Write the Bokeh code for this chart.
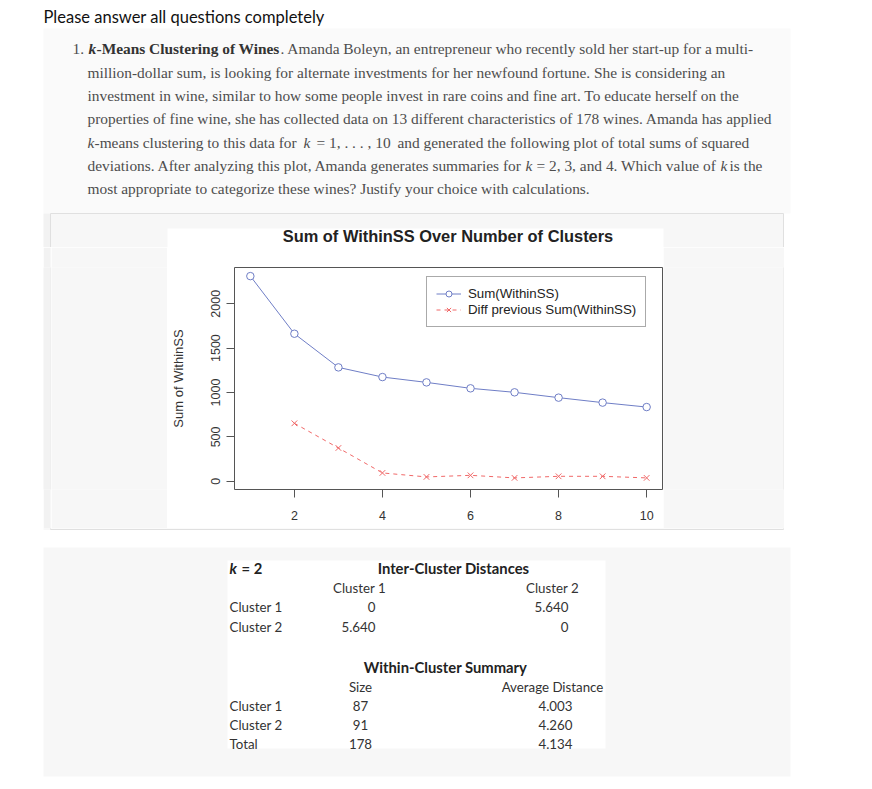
from bokeh.plotting import figure
from bokeh.layouts import column, row
from bokeh.models import Range1d, FixedTicker, Legend, LegendItem
from bokeh.core.properties import value
from bokeh.embed import file_html
from bokeh.resources import INLINE

# ---------------- data ----------------
k_values = [1, 2, 3, 4, 5, 6, 7, 8, 9, 10]
sum_withinss = [2311, 1662, 1283, 1174, 1114, 1047, 1002, 942, 886, 836]
diff_k = [2, 3, 4, 5, 6, 7, 8, 9, 10]
diff_withinss = [653, 375, 94, 49, 67, 38, 56, 56, 38]
x_ticks = [2, 4, 6, 8, 10]
y_ticks = [0, 500, 1000, 1500, 2000]

inter_cols = ["Cluster 1", "Cluster 2"]
inter_rows = ["Cluster 1", "Cluster 2"]
inter_col1 = ["0", "5.640"]
inter_col2 = ["5.640", "0"]
within_rows = ["Cluster 1", "Cluster 2", " Total"]
within_size = ["87", "91", "178"]
within_avg = ["4.003", "4.260", "4.134"]

SERIF = "Liberation Serif"
SANS = "Liberation Sans"
TAB = "Lato"
BLUE = "#6f7ec6"
RED = "#f06868"
PANEL = "#f7f7f7"
STRIP = "#f2f2f2"
EDGE = "#e0e0e0"


def blank(w, h, x0, x1, y0, y1, fill="white"):
    f = figure(width=w, height=h, x_range=Range1d(x0, x1), y_range=Range1d(y1, y0),
               x_axis_type=None, y_axis_type=None, output_backend="svg",
               toolbar_location=None, min_border=0, title=None)
    f.grid.visible = False
    f.outline_line_color = None
    f.background_fill_color = fill
    f.border_fill_color = fill
    return f


def txt(f, x, y, s, font, size, style="normal", color="#4d4d4d", align="left"):
    f.text(x=[x], y=[y], text=[s], text_font=value(font), text_font_size=size,
           text_font_style=style, text_color=color, text_align=align,
           text_baseline="middle")


# ---------------- header (page y 0..247) ----------------
H = blank(872, 247, 0, 872, 0, 247)
H.quad(left=[43], right=[790], top=[28], bottom=[213], fill_color="#fafafa", line_color=None)
H.quad(left=[43], right=[50], top=[213], bottom=[260], fill_color=STRIP, line_color=None)
H.quad(left=[50], right=[783], top=[213], bottom=[260], fill_color=PANEL, line_color=EDGE)
H.quad(left=[167], right=[663], top=[228], bottom=[260], fill_color="white", line_color=None)

txt(H, 43, 16, "Please answer all questions completely", TAB, "16.5px", color="#111111")

PS = "15.4px"
ys = [48, 71.5, 95, 118.3, 141.7, 165, 188.4]
txt(H, 72, ys[0], "1.", SERIF, PS)
txt(H, 88, ys[0], "k", SERIF, PS, "bold italic", "#333333")
txt(H, 96, ys[0], "-Means Clustering of Wines", SERIF, PS, "bold", "#333333")
txt(H, 280, ys[0], ". Amanda Boleyn, an entrepreneur who recently sold her start-up for a multi-", SERIF, PS)
txt(H, 87, ys[1], "million-dollar sum, is looking for alternate investments for her newfound fortune. She is considering an", SERIF, PS)
txt(H, 87, ys[2], "investment in wine, similar to how some people invest in rare coins and fine art. To educate herself on the", SERIF, PS)
txt(H, 87, ys[3], "properties of fine wine, she has collected data on 13 different characteristics of 178 wines. Amanda has applied", SERIF, PS)
txt(H, 87, ys[4], "k", SERIF, PS, "italic")
txt(H, 94, ys[4], "-means clustering to this data for", SERIF, PS)
txt(H, 303, ys[4], "k", SERIF, PS, "italic")
txt(H, 316, ys[4], "= 1, . . . , 10", SERIF, PS)
txt(H, 397, ys[4], "and generated the following plot of total sums of squared", SERIF, PS)
txt(H, 87, ys[5], "deviations. After analyzing this plot, Amanda generates summaries for", SERIF, PS)
txt(H, 525, ys[5], "k", SERIF, PS, "italic")
txt(H, 536, ys[5], "= 2, 3, and 4. Which value of", SERIF, PS)
txt(H, 720, ys[5], "k", SERIF, PS, "italic")
txt(H, 729, ys[5], "is the", SERIF, PS)
txt(H, 87, ys[6], "most appropriate to categorize these wines? Justify your choice with calculations.", SERIF, PS)

# chart title (sits in the white chart area of the page)
txt(H, 447.5, 235, "Sum of WithinSS Over Number of Clusters", SANS, "16.4px", "bold", "#222222", "center")

# ---------------- chart row (page y 247..528) ----------------
RH = 281
L1 = blank(43, RH, 0, 1, 0, 1, "white")
L2 = blank(7, RH, 0, 1, 0, 1, STRIP)
L3 = blank(1, RH, 0, 1, 0, 1, EDGE)
L4 = blank(116, RH, 0, 1, 0, 1, PANEL)
R1 = blank(120, RH, 0, 1, 0, 1, PANEL)
R2 = blank(1, RH, 0, 1, 0, 1, EDGE)
R3 = blank(88, RH, 0, 1, 0, 1, "white")

c = figure(width=496, height=RH, x_range=Range1d(0.64, 10.36), y_range=Range1d(-92.6, 2408),
           output_backend="svg", toolbar_location=None, title=None,
           min_border_left=66, min_border_right=1, min_border_top=20, min_border_bottom=39)
c.background_fill_color = "white"
c.border_fill_color = "white"
c.grid.visible = False
c.outline_line_color = "#555555"

for ax in (c.xaxis[0], c.yaxis[0]):
    ax.axis_line_color = None
    ax.major_tick_out = 8
    ax.major_tick_in = 0
    ax.minor_tick_out = 0
    ax.minor_tick_in = 0
    ax.major_tick_line_color = "#555555"
    ax.major_label_text_font = SANS
    ax.major_label_text_font_size = "12.5px"
    ax.major_label_text_color = "#333333"
c.xaxis.ticker = FixedTicker(ticks=x_ticks)
c.xaxis.major_label_standoff = 13
c.yaxis.ticker = FixedTicker(ticks=y_ticks)
c.yaxis.major_label_orientation = "vertical"
c.yaxis.major_label_standoff = 6
c.yaxis.axis_label = "Sum of WithinSS"
c.yaxis.axis_label_text_font = SANS
c.yaxis.axis_label_text_font_size = "13px"
c.yaxis.axis_label_text_font_style = "normal"
c.yaxis.axis_label_text_color = "#333333"
c.yaxis.axis_label_standoff = 23

r1 = c.line(k_values, sum_withinss, line_color=BLUE, line_width=1)
s1 = c.scatter(k_values, sum_withinss, marker="circle", size=7.5, line_color=BLUE,
               fill_color="white", line_width=1)
r2 = c.line(diff_k, diff_withinss, line_color=RED, line_width=1, line_dash="4 4")
s2 = c.scatter(diff_k, diff_withinss, marker="x", size=8, line_color=RED, line_width=1)

legend = Legend(items=[LegendItem(label="Sum(WithinSS)", renderers=[r1, s1]),
                       LegendItem(label="Diff previous Sum(WithinSS)", renderers=[r2, s2])],
                location=(192, 162), margin=0, padding=9, spacing=1,
                glyph_width=25, glyph_height=15, label_height=15, label_standoff=7,
                label_text_font=SANS, label_text_font_size="13.3px", label_text_color="#222222",
                border_line_color="#555555", background_fill_alpha=1)
c.add_layout(legend)

# ---------------- table (page y 528..788) ----------------
T = blank(872, 260, 0, 872, 528, 788)
T.quad(left=[43], right=[50], top=[500], bottom=[529], fill_color=STRIP, line_color=None)
T.quad(left=[50], right=[783], top=[500], bottom=[529], fill_color=PANEL, line_color=EDGE)
T.quad(left=[43], right=[790], top=[547], bottom=[776], fill_color=PANEL, line_color=None)
T.quad(left=[227], right=[605], top=[560], bottom=[748], fill_color="white", line_color=None)

TS = "13.3px"
TB = "14.8px"
TC = "#333333"
txt(T, 229, 567, "k", TAB, TB, "bold italic", "#222222")
txt(T, 241, 567, "= 2", TAB, TB, "bold", "#222222")
txt(T, 453, 567, "Inter-Cluster Distances", TAB, TB, "bold", "#222222", "center")
txt(T, 359, 587, inter_cols[0], TAB, TS, color=TC, align="center")
txt(T, 552, 587, inter_cols[1], TAB, TS, color=TC, align="center")
for i, yy in enumerate([606, 626]):
    txt(T, 229, yy, inter_rows[i], TAB, TS, color=TC)
    txt(T, 375, yy, inter_col1[i], TAB, TS, color=TC, align="right")
    txt(T, 568, yy, inter_col2[i], TAB, TS, color=TC, align="right")
txt(T, 445, 666, "Within-Cluster Summary", TAB, TB, "bold", "#222222", "center")
txt(T, 360, 686, "Size", TAB, TS, color=TC, align="center")
txt(T, 552, 686, "Average Distance", TAB, TS, color=TC, align="center")
for i, yy in enumerate([705, 724, 743]):
    txt(T, 229, yy, within_rows[i], TAB, TS, color=TC)
    txt(T, 360, yy, within_size[i], TAB, TS, color=TC, align="center")
    txt(T, 555, yy, within_avg[i], TAB, TS, color=TC, align="center")

layout = column(H, row(L1, L2, L3, L4, c, R1, R2, R3, spacing=0), T, spacing=0)
open("out.html", "w").write(file_html(layout, INLINE))
